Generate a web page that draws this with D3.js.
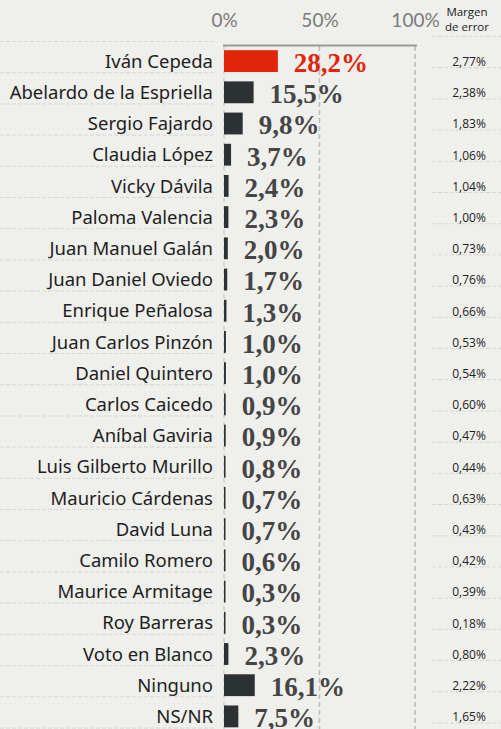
<!doctype html>
<html lang="es">
<head>
<meta charset="utf-8">
<title>Encuesta</title>
<script src="https://cdn.jsdelivr.net/npm/d3@7"></script>
<style>
    html, body { margin: 0; padding: 0; background: #efefec; }
    svg { display: block; }
</style>
</head>
<body>
<svg id="chart"></svg>
<script>
    // data
    const names = ["Iván Cepeda", "Abelardo de la Espriella", "Sergio Fajardo", "Claudia López",
        "Vicky Dávila", "Paloma Valencia", "Juan Manuel Galán", "Juan Daniel Oviedo",
        "Enrique Peñalosa", "Juan Carlos Pinzón", "Daniel Quintero", "Carlos Caicedo",
        "Aníbal Gaviria", "Luis Gilberto Murillo", "Mauricio Cárdenas", "David Luna",
        "Camilo Romero", "Maurice Armitage", "Roy Barreras", "Voto en Blanco", "Ninguno", "NS/NR"];
    const values = [28.2, 15.5, 9.8, 3.7, 2.4, 2.3, 2.0, 1.7, 1.3, 1.0, 1.0, 0.9, 0.9, 0.8, 0.7, 0.7, 0.6, 0.3, 0.3, 2.3, 16.1, 7.5];
    const margins = [2.77, 2.38, 1.83, 1.06, 1.04, 1.00, 0.73, 0.76, 0.66, 0.53, 0.54, 0.60, 0.47, 0.44, 0.63, 0.43, 0.42, 0.39, 0.18, 0.80, 2.22, 1.65];
    const ticks = [0, 50, 100];
    const headLines = ["Margen", "de error"];

    const W = 501, H = 729;
    const svg = d3.select("#chart").attr("width", W).attr("height", H);

    const rows = names.map((n, i) => ({name: n, value: values[i], margin: margins[i], i: i}));

    const x = d3.scaleLinear().domain([0, 100]).range([224, 415]);
    const y = d3.scaleBand().domain(names).range([45.5, 732]).paddingInner(0.3).paddingOuter(0.15);
    const step = y.step();
    const comma = v => v.toFixed(1).replace(".", ",") + "%";
    const comma2 = v => v.toFixed(2).replace(".", ",") + "%";

    // row separators
    const sep = svg.append("g");
    const bounds = d3.range(names.length + 1).map(i => 45.5 + i * step - 4);
    sep.selectAll(".sl").data(bounds).join("line")
        .attr("x1", 0).attr("x2", 216)
        .attr("y1", d => d).attr("y2", d => d)
        .attr("stroke", "#d6d6d3").attr("stroke-width", 1).attr("stroke-dasharray", "4,2");
    sep.selectAll(".sr").data(bounds).join("line")
        .attr("x1", 432).attr("x2", W)
        .attr("y1", d => d - 5).attr("y2", d => d - 5)
        .attr("stroke", "#d6d6d3").attr("stroke-width", 1).attr("stroke-dasharray", "4,2");

    // grid
    svg.append("line")
        .attr("x1", x(0)).attr("x2", x(0)).attr("y1", 46).attr("y2", H)
        .attr("stroke", "#c8c8c6").attr("stroke-width", 1.2).attr("stroke-dasharray", "5,3");
    svg.selectAll(".grid").data([50, 100]).join("line")
        .attr("x1", d => x(d)).attr("x2", d => x(d)).attr("y1", 46).attr("y2", H)
        .attr("stroke", "#bdbdbb").attr("stroke-width", 1.6).attr("stroke-dasharray", "5,3");
    svg.append("line")
        .attr("x1", x(0) - 1).attr("x2", x(100) + 2).attr("y1", 45.5).attr("y2", 45.5)
        .attr("stroke", "#9a9a98").attr("stroke-width", 2);

    // top axis
    const axis = svg.append("g")
        .attr("transform", "translate(0,27)")
        .call(d3.axisTop(x).tickValues(ticks).tickSize(0).tickPadding(0).tickFormat(d => d + "%"));
    axis.select(".domain").remove();
    axis.selectAll("text")
        .attr("fill", "#7a7a7a").attr("font-family", "Lato, sans-serif").attr("font-size", 19);

    svg.append("g").selectAll("text").data(headLines).join("text")
        .attr("x", 467).attr("y", (d, i) => 16 + i * 15)
        .attr("font-family", "'Open Sans', sans-serif").attr("font-size", 11.5)
        .attr("fill", "#222").attr("text-anchor", "middle")
        .text(d => d);

    // names
    svg.append("g").selectAll("text").data(rows).join("text")
        .attr("x", 213).attr("y", d => y(d.name) + y.bandwidth() / 2)
        .attr("dy", "0.36em").attr("text-anchor", "end")
        .attr("font-family", "'Noto Sans', sans-serif").attr("font-size", 18.5).attr("fill", "#1e1e1e")
        .text(d => d.name);

    // bars
    svg.append("g").selectAll("rect").data(rows).join("rect")
        .attr("x", x(0)).attr("y", d => y(d.name))
        .attr("width", d => Math.max(1.5, x(d.value) - x(0)))
        .attr("height", y.bandwidth())
        .attr("fill", d => d.i === 0 ? "#e0250b" : "#2c3234");

    // values
    svg.append("g").selectAll("text").data(rows).join("text")
        .attr("x", d => Math.max(x(d.value), x(0) + 1.5) + 16)
        .attr("y", d => y(d.name) + y.bandwidth() / 2)
        .attr("dy", "0.4em")
        .attr("font-family", "'Liberation Serif', serif").attr("font-weight", "bold").attr("font-size", 27)
        .attr("fill", d => d.i === 0 ? "#e0250b" : "#454545")
        .text(d => comma(d.value));

    // margin of error
    svg.append("g").selectAll("text").data(rows).join("text")
        .attr("x", 469).attr("y", d => y(d.name) + y.bandwidth() / 2)
        .attr("dy", "0.4em").attr("text-anchor", "middle")
        .attr("font-family", "'Open Sans', sans-serif").attr("font-size", 12).attr("fill", "#222")
        .text(d => comma2(d.margin));
</script>
</body>
</html>
